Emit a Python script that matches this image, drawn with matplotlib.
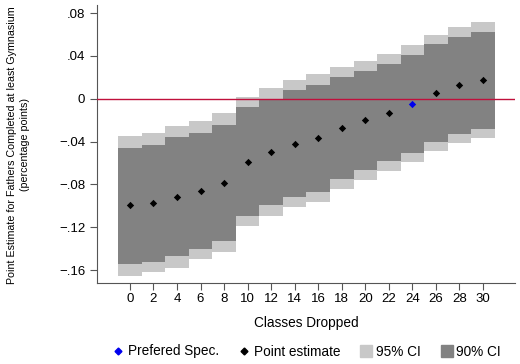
import matplotlib
matplotlib.use("Agg")
import matplotlib.pyplot as plt
from matplotlib.lines import Line2D

plt.rcParams['font.family'] = ['Liberation Sans', 'DejaVu Sans']

# classes dropped and estimates
classes = [0, 2, 4, 6, 8, 10, 12, 14, 16, 18, 20, 22, 24, 26, 28, 30]
point = [-0.0995, -0.0972, -0.0916, -0.0857, -0.0785, -0.0586, -0.0495, -0.0418,
         -0.0368, -0.0277, -0.0199, -0.0128, -0.0047, 0.0053, 0.0128, 0.0175]
ci95_hi = [-0.0346, -0.0321, -0.0252, -0.0209, -0.0134, 0.0016, 0.0100, 0.0178,
           0.0227, 0.0293, 0.0352, 0.0414, 0.0498, 0.0595, 0.0666, 0.0713]
ci95_lo = [-0.1650, -0.1620, -0.1580, -0.1500, -0.1430, -0.1190, -0.1090, -0.1010,
           -0.0966, -0.0844, -0.0757, -0.0670, -0.0592, -0.0489, -0.0411, -0.0368]
ci90_hi = [-0.0455, -0.0430, -0.0358, -0.0315, -0.0243, -0.0081, -0.0003, 0.0078,
           0.0128, 0.0199, 0.0259, 0.0324, 0.0405, 0.0508, 0.0580, 0.0626]
ci90_lo = [-0.1540, -0.1520, -0.1470, -0.1400, -0.1327, -0.1090, -0.0994, -0.0916,
           -0.0869, -0.0751, -0.0664, -0.0580, -0.0502, -0.0399, -0.0324, -0.0280]
preferred = 24

yticks = [0.08, 0.04, 0, -0.04, -0.08, -0.12, -0.16]
ylabels = [".08", ".04", "0", "\u2212.04", "\u2212.08", "\u2212.12", "\u2212.16"]

light = '#c8c8c8'
dark = '#828282'

fig = plt.figure(figsize=(5.2, 3.64), dpi=100)
ax = fig.add_axes([0.1865, 0.2225, 0.8035, 0.7635])

ax.bar(classes, [h - l for h, l in zip(ci95_hi, ci95_lo)], bottom=ci95_lo,
       width=2, color=light, linewidth=0, zorder=1)
ax.bar(classes, [h - l for h, l in zip(ci90_hi, ci90_lo)], bottom=ci90_lo,
       width=2, color=dark, linewidth=0, zorder=2)
ax.axhline(0, color='#c0103c', linewidth=1, zorder=3)

others = [(c, p) for c, p in zip(classes, point) if c != preferred]
ax.scatter([c for c, _ in others], [p for _, p in others], marker='D', s=14,
           color='black', linewidths=0, zorder=4)
ax.scatter([preferred], [point[classes.index(preferred)]], marker='D', s=14,
           color='#0000ee', linewidths=0, zorder=4)

ax.set_xlim(-2.8, 32.7)
ax.set_ylim(-0.172, 0.0875)
ax.set_xticks(classes)
ax.set_yticks(yticks)
ax.set_yticklabels(ylabels)
ax.tick_params(axis='both', labelsize=9.5, length=5, width=0.8, color='#555555')
ax.tick_params(axis='x', pad=2)
for s in ['top', 'right']:
    ax.spines[s].set_visible(False)
for s in ['left', 'bottom']:
    ax.spines[s].set_color('#555555')
    ax.spines[s].set_linewidth(0.8)

ax.set_xlabel("Classes Dropped", fontsize=9.8, labelpad=8)
fig.text(18.5 / 520, 1 - 145 / 364,
         "Point Estimate for Fathers Completed at least Gymnasium\n(percentage points)",
         rotation=90, ha='center', va='center', fontsize=7.7, linespacing=1.35)

handles = [
    Line2D([], [], marker='D', linestyle='none', color='#0000ee', markersize=3.5),
    Line2D([], [], marker='D', linestyle='none', color='black', markersize=3.5),
    Line2D([], [], marker='s', linestyle='none', color=light, markersize=9),
    Line2D([], [], marker='s', linestyle='none', color=dark, markersize=9),
]
fig.legend(handles, ["Prefered Spec.", "Point estimate", "95% CI", "90% CI"],
           loc='center', bbox_to_anchor=(0.587, 1 - 351.5 / 364), ncol=4, frameon=False,
           fontsize=9.8, handletextpad=0.1, columnspacing=1.3, handlelength=1.2)

fig.savefig("out.png", dpi=100)
